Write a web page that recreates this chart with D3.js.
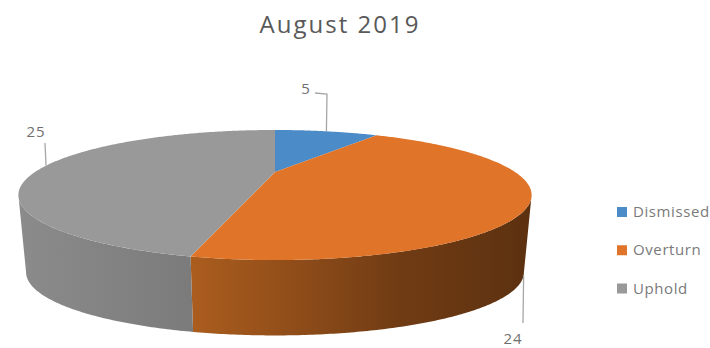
<!DOCTYPE html>
<html>
<head>
<meta charset="utf-8">
<script src="https://cdn.jsdelivr.net/npm/d3@7/dist/d3.min.js"></script>
<style>
  html, body { margin: 0; padding: 0; background: #fff; overflow: hidden; }
  text { font-family: "Open Sans", sans-serif; }
</style>
</head>
<body>
<svg id="chart" width="710" height="348"></svg>
<script>
const categories = ["Dismissed", "Overturn", "Uphold"];
const values = [5, 24, 25];
const chartTitle = "August 2019";
const topColors = ["#4a8bc8", "#e07429", "#999999"];
const wallStops = {
  Dismissed: [[0, "#35628c"], [1, "#35628c"]],
  Overturn: [[0, "#ab5d1e"], [0.25, "#95501a"], [0.6, "#713c14"], [1, "#5c3110"]],
  Uphold: [[0, "#8b8b8b"], [1, "#7b7b7b"]]
};

// Tilted-disc projection: the near edge is magnified relative to the far edge.
const disc = { cx: 275, cy: 172, rx: 240, ry: 56.9, persp: 0.354, depth: 78, shrink: 0.03 };
const project = (angle, radius = 1, z = 0) => {
  const u = Math.sin(angle) * radius, v = -Math.cos(angle) * radius;
  const s = (1 / (1 - disc.persp * v)) * (1 - disc.shrink * z);
  return [disc.cx + disc.rx * u * s, disc.cy + disc.depth * z + disc.ry * v * s];
};

const svg = d3.select("#chart");
const defs = svg.append("defs");
const line = d3.line();
const arcs = d3.pie().sort(null)(values);

const rim = (a0, a1, z) => {
  const n = Math.max(2, Math.ceil(Math.abs(a1 - a0) / 0.01));
  return d3.range(n + 1).map(i => project(a0 + (a1 - a0) * i / n, 1, z));
};

// The rim faces the viewer between the two widest points of the projected ellipse.
const tangent = Math.acos(-disc.persp);
const frontStart = tangent, frontEnd = 2 * Math.PI - tangent;

// Side wall, drawn first so the top face sits over its upper edge.
const walls = svg.append("g");
arcs.forEach((d, i) => {
  const a0 = Math.max(d.startAngle, frontStart), a1 = Math.min(d.endAngle, frontEnd);
  if (a1 <= a0) return;
  const upper = rim(a0, a1, 0), lower = rim(a1, a0, 1);
  const id = "wall-" + i;
  const xs = upper.map(p => p[0]);
  const grad = defs.append("linearGradient").attr("id", id)
    .attr("gradientUnits", "userSpaceOnUse")
    .attr("x1", d3.min(xs)).attr("x2", d3.max(xs)).attr("y1", 0).attr("y2", 0);
  wallStops[categories[i]].forEach(([o, c]) => grad.append("stop").attr("offset", o).attr("stop-color", c));
  walls.append("path")
    .attr("d", line(upper.concat(lower)) + "Z")
    .attr("fill", `url(#${id})`);
});

// Top face of each slice.
svg.append("g").selectAll("path").data(arcs).join("path")
  .attr("d", d => line([project(0, 0)].concat(rim(d.startAngle, d.endAngle, 0))) + "Z")
  .attr("fill", (d, i) => topColors[i]);

// Data labels with elbowed leader lines anchored on each slice's mid-angle.
const labelSpec = [
  { text: [306, 94], elbow: [[315, 93], [327, 94]], z: 0 },
  { text: [513, 344], elbow: [[523, 323]], z: 1 },
  { text: [36, 137], elbow: [[45, 143]], z: 0 }
];
const labels = svg.append("g");
arcs.forEach((d, i) => {
  const spec = labelSpec[i];
  const anchor = project((d.startAngle + d.endAngle) / 2, 1, spec.z);
  labels.append("path")
    .attr("d", line(spec.elbow.concat([anchor])))
    .attr("fill", "none").attr("stroke", "#a6a6a6").attr("stroke-width", 1.3);
  labels.append("text")
    .attr("x", spec.text[0]).attr("y", spec.text[1])
    .attr("text-anchor", "middle").attr("font-size", 15).attr("letter-spacing", 1).attr("fill", "#6f6f6f")
    .text(d.value);
});

svg.append("text")
  .attr("x", 340).attr("y", 33)
  .attr("text-anchor", "middle").attr("font-size", 24).attr("letter-spacing", 2).attr("fill", "#595959")
  .text(chartTitle);

// Legend sits hard against the right edge of the canvas.
const legendY = d3.scalePoint().domain(categories).range([212, 288.5]);
const legend = svg.append("g").selectAll("g").data(categories).join("g")
  .attr("transform", d => `translate(617,${legendY(d)})`);
legend.append("rect").attr("x", 0).attr("y", -5).attr("width", 10).attr("height", 10)
  .attr("fill", (d, i) => topColors[i]);
legend.append("text").attr("x", 16).attr("y", 5)
  .attr("font-size", 15).attr("letter-spacing", 0.6).attr("fill", "#7a7a7a").text(d => d);
</script>
</body>
</html>
